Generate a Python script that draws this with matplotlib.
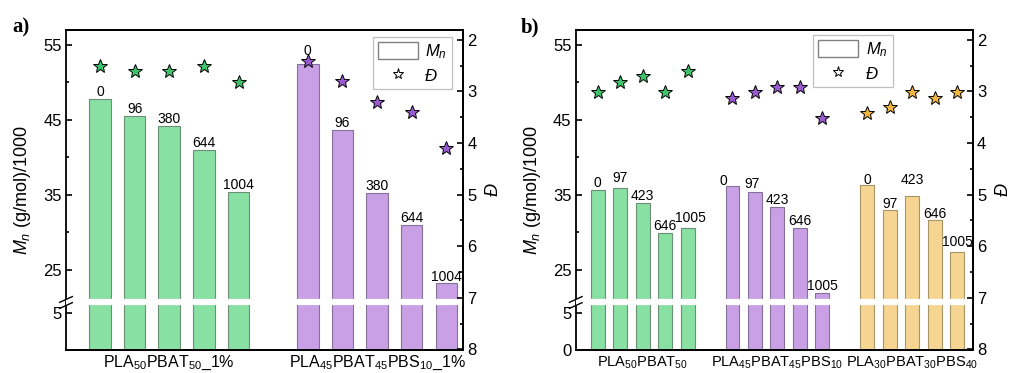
import numpy as np
import matplotlib
matplotlib.use('Agg')
from matplotlib import pyplot as plt
from matplotlib.patches import Patch
from matplotlib.lines import Line2D

plt.rcParams['font.family'] = ['Liberation Sans', 'DejaVu Sans']
plt.rcParams['mathtext.fontset'] = 'custom'
plt.rcParams['mathtext.rm'] = 'Liberation Sans'
plt.rcParams['mathtext.it'] = 'Liberation Sans:italic'

# a) 1% samples
samples_a = ['PLA$_{50}$PBAT$_{50}$_1%', 'PLA$_{45}$PBAT$_{45}$PBS$_{10}$_1%']
hours_a = [0, 96, 380, 644, 1004]
mn_a = [[47.8, 45.5, 44.2, 41.0, 35.4],
        [52.4, 43.7, 35.3, 31.0, 23.2]]
disp_a = [[2.50, 2.60, 2.60, 2.50, 2.81],
          [2.41, 2.80, 3.20, 3.40, 4.10]]

# b) neat blends
samples_b = ['PLA$_{50}$PBAT$_{50}$', 'PLA$_{45}$PBAT$_{45}$PBS$_{10}$', 'PLA$_{30}$PBAT$_{30}$PBS$_{40}$']
hours_b = [0, 97, 423, 646, 1005]
mn_b = [[35.7, 35.9, 33.9, 29.9, 30.6],
        [36.2, 35.4, 33.4, 30.6, 21.9],
        [36.3, 33.0, 34.9, 31.6, 27.4]]
disp_b = [[3.02, 2.81, 2.71, 3.02, 2.61],
          [3.12, 3.01, 2.92, 2.92, 3.52],
          [3.42, 3.31, 3.01, 3.12, 3.01]]

bar_colors = ['#89e0a3', '#c9a0e6', '#f6d592']
bar_edges = ['#6a8f75', '#85709a', '#a89565']
star_colors = ['#3dc46b', '#9a5ad0', '#f2b640']

# small nudges (points) for the hour labels that would overlap
nudge_a = [[(0, 0)] * 5, [(0, 4.5), (0, 0), (0, 0), (0, 0), (0, 0)]]
nudge_b = [[(0, 0), (0, 2.5), (0, 0), (0, 0), (2, 2.5)],
           [(-6.5, -1.5), (-2, 1), (0, 0), (0, 0), (0, 0)],
           [(0, -1), (0, -1), (0, 6.5), (0, 0), (0, 2.5)]]

# broken y axis: everything between LO and HI is cut out
LO, HI = 6.4, 20.7


def fwd(y):
    y = np.asarray(y, dtype=float)
    return np.where(y > HI, y - (HI - LO), np.minimum(y, LO))


def inv(t):
    t = np.asarray(t, dtype=float)
    return np.where(t > LO, t + (HI - LO), t)


fig = plt.figure(figsize=(10.12, 3.73), dpi=100)


def panel(rect, samples, hours, mn, disp, nudges, yticks, xmax, leg_anchor, tag, tag_x, xsize):
    ax = fig.add_axes(rect)
    ax.set_yscale('function', functions=(fwd, inv))
    centers = []
    for g in range(len(samples)):
        x = np.arange(len(hours)) + g * (len(hours) + 1)
        centers.append(x.mean())
        ax.bar(x, mn[g], width=0.62, color=bar_colors[g], edgecolor=bar_edges[g], linewidth=0.8, zorder=1)
        for i in range(len(hours)):
            ax.annotate(str(hours[i]), (x[i], mn[g][i]), xytext=(nudges[g][i][0], 2 + nudges[g][i][1]),
                        textcoords='offset points', ha='center', va='baseline', fontsize=10)
    ax.set_xlim(-0.98, xmax)
    ax.set_ylim(0, 57)
    ax.set_yticks(yticks)
    ax.set_yticks([30, 40, 50], minor=True)
    ax.set_xticks(centers)
    ax.set_xticklabels(samples)
    ax.tick_params(axis='x', length=0, labelsize=xsize, pad=3)
    ax.tick_params(axis='y', which='major', direction='in', length=4, width=1.2, labelsize=12, pad=3)
    ax.tick_params(axis='y', which='minor', direction='in', length=2.5, width=1.2)
    ax.set_ylabel('$M_n$ (g/mol)/1000', fontsize=13, labelpad=7)
    for s in ax.spines.values():
        s.set_linewidth(1.3)

    # white cut through the bars and the left spine
    ax.axhline(HI, color='white', lw=4.5, zorder=3)

    tw = ax.twinx()
    for g in range(len(samples)):
        x = np.arange(len(hours)) + g * (len(hours) + 1)
        tw.plot(x, disp[g], ls='', marker='*', ms=10, mfc=star_colors[g], mec='black', mew=0.7)
    tw.set_ylim(8.01, 1.81)
    tw.set_yticks(range(2, 9))
    tw.set_yticks(np.arange(2.5, 8, 1.0), minor=True)
    tw.tick_params(axis='y', which='major', direction='in', length=4, width=1.2, labelsize=12, pad=3)
    tw.tick_params(axis='y', which='minor', direction='in', length=2.5, width=1.2)
    tw.set_ylabel('Đ', fontsize=13, fontstyle='italic', labelpad=6, rotation=90)
    tw.spines['left'].set_visible(False)
    tw.spines['right'].set_linewidth(1.3)
    tw.spines['top'].set_linewidth(1.3)
    tw.spines['bottom'].set_linewidth(1.3)

    # break marks on the left spine
    yb = fwd(HI) / fwd(57)
    for dy in (-0.011, 0.008):
        tw.plot([-0.016, 0.016], [yb + dy - 0.009, yb + dy + 0.009], color='black', lw=1.0,
                transform=ax.transAxes, clip_on=False)

    handles = [Patch(facecolor='white', edgecolor='#808080', linewidth=1.0),
               Line2D([], [], ls='', marker='*', ms=8, mfc='white', mec='black', mew=0.7)]
    leg = tw.legend(handles, ['$M_n$', 'Đ'], loc='upper right', bbox_to_anchor=leg_anchor,
                    borderaxespad=0, fancybox=False, edgecolor='#b0b0b0', handlelength=2.4,
                    handleheight=1.2, borderpad=0.3, labelspacing=0.35, handletextpad=0.45,
                    prop={'style': 'italic', 'size': 12})
    leg.get_frame().set_linewidth(0.9)

    fig.text(tag_x, 0.912, tag, fontsize=15, fontweight='bold', family='Liberation Serif')
    return ax


panel([0.0652, 0.0617, 0.3923, 0.8579], samples_a, hours_a, mn_a, disp_a, nudge_a,
      [5, 25, 35, 45, 55], 10.48, (0.972, 0.978), 'a)', 0.012, 11.5)
panel([0.5689, 0.0617, 0.3923, 0.8579], samples_b, hours_b, mn_b, disp_b, nudge_b,
      [0, 5, 25, 35, 45, 55], 16.7, (0.798, 0.984), 'b)', 0.515, 10.5)

fig.savefig('out.png', dpi=100)
